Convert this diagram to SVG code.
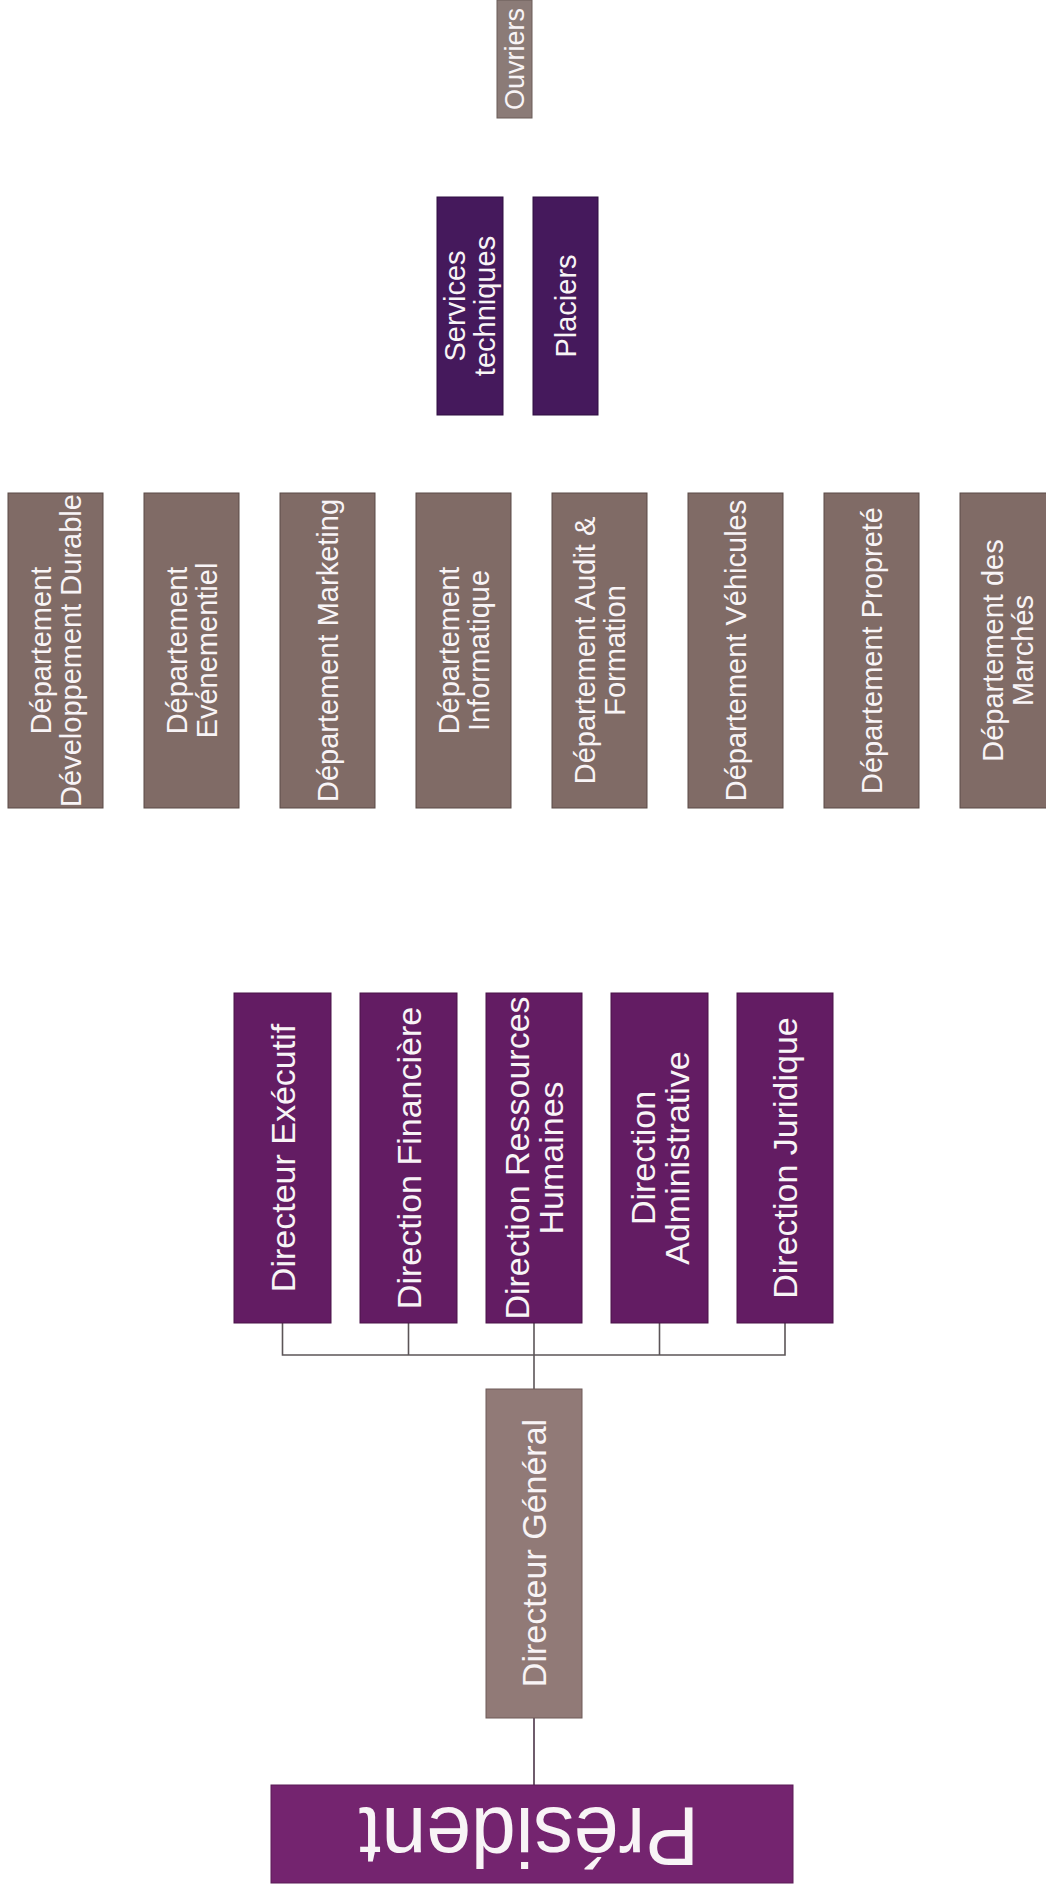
<svg xmlns="http://www.w3.org/2000/svg" width="1046" height="1894" viewBox="0 0 1046 1894">
<style>
.bg{fill:#ffffff}
.pres{fill:#74246f;stroke:#5a1a56;stroke-width:1}
.dir{fill:#631c63;stroke:#4a1248;stroke-width:1}
.svc{fill:#45195c;stroke:#2e0f40;stroke-width:1}
.dg{fill:#917a77;stroke:#6e5a58;stroke-width:1}
.dep{fill:#806b66;stroke:#5a4a46;stroke-width:1}
.ouv{fill:#8b7b77;stroke:#6a5c59;stroke-width:1}
text{font-family:"Liberation Sans",Arial,sans-serif;fill:#f8f4f6;text-anchor:middle;dominant-baseline:central}
.t34{font-size:34px}
.t29{font-size:29px}
.t27{font-size:27px}
.line{fill:none;stroke:#5c5558;stroke-width:1.6}
.line2{fill:none;stroke:#4b3448;stroke-width:1.6}
</style>
<rect class="bg" x="0" y="0" width="1046" height="1894"/>

<g id="connectors">
<line class="line2" x1="534" y1="1718" x2="534" y2="1785"/>
<line class="line" x1="534" y1="1355" x2="534" y2="1389"/>
<polyline class="line" points="282.5,1323 282.5,1355 785,1355 785,1323"/>
<line class="line" x1="408.5" y1="1323" x2="408.5" y2="1355"/>
<line class="line" x1="534" y1="1323" x2="534" y2="1355"/>
<line class="line" x1="659.5" y1="1323" x2="659.5" y2="1355"/>
</g>

<g id="president">
<rect class="pres" x="271" y="1785" width="522" height="98"/>
<text transform="translate(529,1834) rotate(180)" x="0" y="26" style="font-size:84px;dominant-baseline:alphabetic" textLength="340" lengthAdjust="spacingAndGlyphs">Président</text>
</g>

<g id="directeur-general">
<rect class="dg" x="486" y="1389" width="96" height="329"/>
<text class="t34" transform="translate(534,1553) rotate(-90)">Directeur Général</text>
</g>

<g id="directeur-executif">
<rect class="dir" x="234" y="993" width="97" height="330"/>
<text class="t34" transform="translate(282.5,1158) rotate(-90)">Directeur Exécutif</text>
</g>
<g id="direction-financiere">
<rect class="dir" x="360" y="993" width="97" height="330"/>
<text class="t34" transform="translate(408.5,1158) rotate(-90)">Direction Financière</text>
</g>
<g id="direction-rh">
<rect class="dir" x="486" y="993" width="96" height="330"/>
<text class="t34" transform="translate(534,1158) rotate(-90)"><tspan x="0" y="-17">Direction Ressources</tspan><tspan x="0" y="17">Humaines</tspan></text>
</g>
<g id="direction-administrative">
<rect class="dir" x="611" y="993" width="97" height="330"/>
<text class="t34" transform="translate(659.5,1158) rotate(-90)"><tspan x="0" y="-17">Direction</tspan><tspan x="0" y="17">Administrative</tspan></text>
</g>
<g id="direction-juridique">
<rect class="dir" x="737" y="993" width="96" height="330"/>
<text class="t34" transform="translate(785,1158) rotate(-90)">Direction Juridique</text>
</g>

<g id="dep-developpement-durable">
<rect class="dep" x="8" y="493" width="95" height="315"/>
<text class="t29" transform="translate(55.5,650.5) rotate(-90)"><tspan x="0" y="-15">Département</tspan><tspan x="0" y="15">Développement Durable</tspan></text>
</g>
<g id="dep-evenementiel">
<rect class="dep" x="144" y="493" width="95" height="315"/>
<text class="t29" transform="translate(191.5,650.5) rotate(-90)"><tspan x="0" y="-15">Département</tspan><tspan x="0" y="15">Evénementiel</tspan></text>
</g>
<g id="dep-marketing">
<rect class="dep" x="280" y="493" width="95" height="315"/>
<text class="t29" transform="translate(327.5,650.5) rotate(-90)">Département Marketing</text>
</g>
<g id="dep-informatique">
<rect class="dep" x="416" y="493" width="95" height="315"/>
<text class="t29" transform="translate(463.5,650.5) rotate(-90)"><tspan x="0" y="-15">Département</tspan><tspan x="0" y="15">Informatique</tspan></text>
</g>
<g id="dep-audit-formation">
<rect class="dep" x="552" y="493" width="95" height="315"/>
<text class="t29" transform="translate(599.5,650.5) rotate(-90)"><tspan x="0" y="-15">Département Audit &amp;</tspan><tspan x="0" y="15">Formation</tspan></text>
</g>
<g id="dep-vehicules">
<rect class="dep" x="688" y="493" width="95" height="315"/>
<text class="t29" transform="translate(735.5,650.5) rotate(-90)">Département Véhicules</text>
</g>
<g id="dep-proprete">
<rect class="dep" x="824" y="493" width="95" height="315"/>
<text class="t29" transform="translate(871.5,650.5) rotate(-90)">Département Propreté</text>
</g>
<g id="dep-marches">
<rect class="dep" x="960" y="493" width="95" height="315"/>
<text class="t29" transform="translate(1007.5,650.5) rotate(-90)"><tspan x="0" y="-15">Département des</tspan><tspan x="0" y="15">Marchés</tspan></text>
</g>

<g id="services-techniques">
<rect class="svc" x="437" y="197" width="66" height="218"/>
<text class="t29" transform="translate(470,306) rotate(-90)"><tspan x="0" y="-15">Services</tspan><tspan x="0" y="15">techniques</tspan></text>
</g>
<g id="placiers">
<rect class="svc" x="533" y="197" width="65" height="218"/>
<text class="t29" transform="translate(565.5,306) rotate(-90)">Placiers</text>
</g>

<g id="ouvriers">
<rect class="ouv" x="497" y="0" width="35" height="118"/>
<text class="t27" transform="translate(514.5,59) rotate(-90)">Ouvriers</text>
</g>
</svg>
